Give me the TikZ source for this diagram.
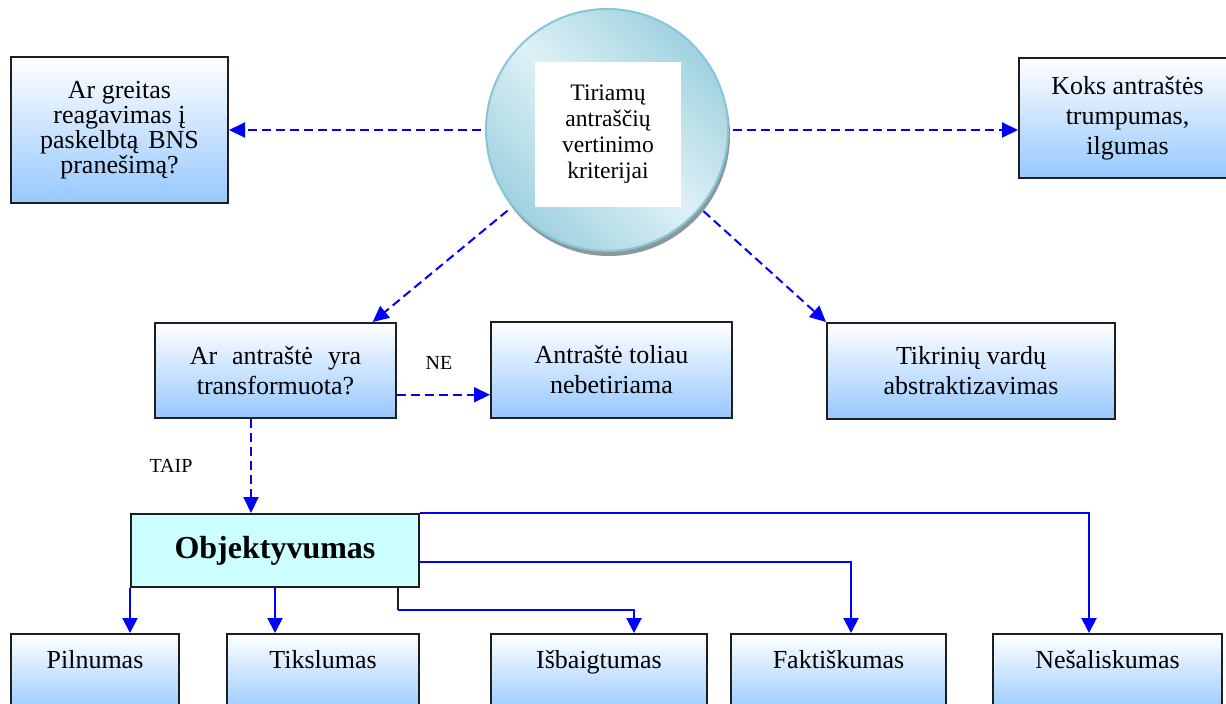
\documentclass[tikz,border=0pt]{standalone}
\usepackage{fontspec}
\setmainfont{Liberation Serif}
\usetikzlibrary{arrows.meta,calc}
\definecolor{arrblue}{RGB}{0,0,255}
\definecolor{boxblue}{RGB}{150,200,255}
\definecolor{cyanbox}{RGB}{204,255,255}
\definecolor{circlight}{RGB}{222,241,246}
\definecolor{circdark}{RGB}{160,210,224}
\definecolor{circline}{RGB}{135,198,214}
\definecolor{rimgray}{RGB}{140,150,155}
\definecolor{boxline}{RGB}{30,30,30}
\begin{document}
\begin{tikzpicture}[x=1pt,y=-1pt,
  gbox/.style={draw=boxline, line width=2pt, top color=white, bottom color=boxblue, align=center, inner sep=0pt},
  txt/.style={font=\fontsize{26}{30}\selectfont},
  dasharr/.style={draw=arrblue, line width=2pt, dash pattern=on 9pt off 5pt, -{Triangle[length=16pt,width=15pt]}},
  solarr/.style={draw=arrblue, line width=2pt, -{Triangle[length=15pt,width=15pt]}},
  lbl/.style={font=\fontsize{20}{22}\selectfont, inner sep=0pt},
  bottombox/.style={gbox, txt, minimum height=80pt, text height=34pt, text depth=46pt}]
\useasboundingbox (0,0) rectangle (1226,704);
\clip (0,0) rectangle (1226,704);

% central circle with rim
\fill[rimgray] (609,135) circle (121pt);
\node[circle, minimum size=242pt, draw=circline, line width=2pt,
      top color=circdark, bottom color=circdark, middle color=circlight,
      shading angle=-45, inner sep=0pt] (circ) at (607,130) {};
\node[fill=white, minimum width=146pt, minimum height=145pt, align=center, inner sep=0pt,
      font=\fontsize{23.6}{26}\selectfont] (crit) at (608,134.5) {Tiriamų\\antraščių\\vertinimo\\kriterijai};

% top boxes
\node[gbox, font=\fontsize{26}{25}\selectfont, minimum width=217pt, minimum height=146pt] (q1) at (119.5,130)
  {Ar greitas\\reagavimas į\\paskelbtą\hspace{10pt}BNS\\pranešimą?};
\node[gbox, txt, minimum width=217pt, minimum height=120pt] (q2) at (1127.5,118)
  {Koks antraštės\\trumpumas,\\ilgumas};

% middle row
\node[gbox, txt, minimum width=241pt, minimum height=95pt] (ar) at (275.5,370.5)
  {Ar\hspace{15pt}antraštė\hspace{15pt}yra\\transformuota?};
\node[gbox, txt, minimum width=241pt, minimum height=96pt] (anb) at (611.5,370)
  {Antraštė toliau\\nebetiriama};
\node[gbox, txt, minimum width=288pt, minimum height=96pt] (tik) at (971,371)
  {Tikrinių vardų\\abstraktizavimas};

% Objektyvumas
\node[draw=boxline, line width=2pt, fill=cyanbox, minimum width=288pt, minimum height=73pt, inner sep=0pt,
      font=\fontsize{32}{34}\selectfont\bfseries] (obj) at (275,550.5) {Objektyvumas};

% bottom row
\node[bottombox, minimum width=168pt] (pil) at (95,674) {Pilnumas};
\node[bottombox, minimum width=192pt] (tiks) at (323,674) {Tikslumas};
\node[bottombox, minimum width=216pt] (isb) at (599,674) {Išbaigtumas};
\node[bottombox, minimum width=215pt] (fak) at (838.5,674) {Faktiškumas};
\node[bottombox, minimum width=229pt] (nes) at (1107.5,674) {Nešaliskumas};

% dashed connectors
\draw[dasharr, shorten <=4pt] (circ.west) -- (q1.east);
\draw[dasharr, shorten <=4pt] (circ.east) -- (circ.east -| q2.west);
\draw[dasharr, shorten <=6pt] (circ.219) -- ($(ar.north)!0.8!(ar.north east)$);
\draw[dasharr, shorten <=4pt] (circ.-40) -- (tik.north west);

\coordinate (neS) at ($(ar.south east)!0.25!(ar.north east)$);
\draw[dasharr] (neS) -- (neS -| anb.west);
\node[lbl] (ne) at (439,363) {NE};

\coordinate (taipS) at ($(ar.south)+(-24.5,0)$);
\draw[dasharr] (taipS) -- (taipS |- obj.north);
\node[lbl] (taip) at (171,466) {TAIP};

% solid connectors
\draw[solarr] (obj.south west) -- (obj.south west |- pil.north);
\draw[solarr] (obj.south) -- (obj.south |- tiks.north);
\coordinate (bk) at ($(obj.south east)+(-22,0)$);
\draw[line width=2pt, draw=boxline] (bk) -- ++(0,22) coordinate (bk2);
\draw[solarr] (bk2) -| ($(isb.north)+(35,0)$);
\coordinate (fS) at ($(obj.east)+(0,11.5)$);
\draw[solarr] (fS) -| ($(fak.north)+(12.5,0)$);
\draw[solarr] (obj.north east) -| ($(nes.north)+(-18.5,0)$);
\end{tikzpicture}
\end{document}
